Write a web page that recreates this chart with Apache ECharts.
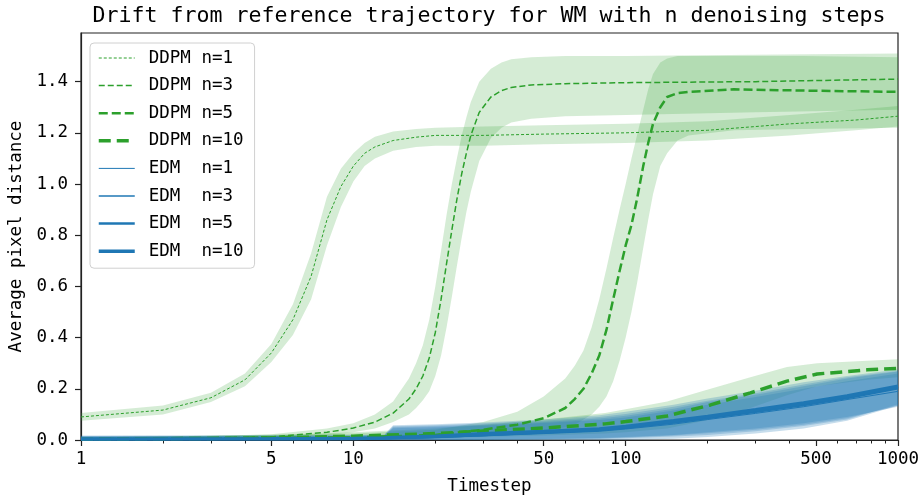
<!DOCTYPE html>
<html>
<head>
<meta charset="utf-8">
<script src="https://cdn.jsdelivr.net/npm/echarts@6/dist/echarts.min.js"></script>
<style>
  html, body { margin: 0; padding: 0; background: #fff; }
  #chart { width: 922px; height: 495px; }
</style>
</head>
<body>
<div id="chart"></div>
<script>
// axis ticks
const xLabelTicks = [1, 5, 10, 50, 100, 500, 1000]
const xMinorTicks = [2, 3, 4, 6, 7, 8, 9, 20, 30, 40, 60, 70, 80, 90, 200, 300, 400, 600, 700, 800, 900]
const yTicks = [0, 0.2, 0.4, 0.6, 0.8, 1.0, 1.2, 1.4]

// DDPM n=1
const ddpm1T = [1, 2, 3, 4, 5, 6, 7, 8, 9, 10, 11, 12, 14, 17, 20, 30, 50, 100, 200, 400, 700, 1000]
const ddpm1Mean = [0.09, 0.117, 0.165, 0.235, 0.34, 0.47, 0.64, 0.86, 0.99, 1.07, 1.12, 1.145, 1.17, 1.183, 1.19, 1.19, 1.195, 1.2, 1.21, 1.235, 1.25, 1.265]
const ddpm1Lo = [0.075, 0.1, 0.148, 0.21, 0.305, 0.41, 0.55, 0.76, 0.91, 1.01, 1.07, 1.1, 1.13, 1.145, 1.15, 1.15, 1.155, 1.16, 1.17, 1.19, 1.21, 1.225]
const ddpm1Hi = [0.105, 0.135, 0.185, 0.26, 0.375, 0.53, 0.73, 0.95, 1.06, 1.12, 1.16, 1.185, 1.205, 1.215, 1.22, 1.225, 1.23, 1.235, 1.245, 1.27, 1.29, 1.305]

// DDPM n=3
const ddpm3T = [1, 3, 5, 8, 10, 12, 14, 16, 17, 18, 19, 20, 21, 22, 23, 24, 25, 26, 27, 29, 32, 35, 38, 45, 60, 100, 300, 1000]
const ddpm3Mean = [0.005, 0.008, 0.012, 0.03, 0.047, 0.07, 0.105, 0.16, 0.2, 0.25, 0.32, 0.42, 0.55, 0.69, 0.82, 0.94, 1.04, 1.12, 1.19, 1.28, 1.34, 1.365, 1.377, 1.387, 1.392, 1.396, 1.4, 1.41]
const ddpm3Lo = [0, 0.001, 0.004, 0.018, 0.03, 0.045, 0.07, 0.1, 0.125, 0.155, 0.19, 0.25, 0.33, 0.44, 0.56, 0.68, 0.79, 0.89, 0.97, 1.09, 1.18, 1.22, 1.24, 1.255, 1.265, 1.27, 1.28, 1.29]
const ddpm3Hi = [0.012, 0.016, 0.022, 0.045, 0.065, 0.1, 0.15, 0.24, 0.3, 0.37, 0.47, 0.6, 0.74, 0.88, 1.0, 1.1, 1.19, 1.26, 1.32, 1.4, 1.45, 1.475, 1.487, 1.495, 1.5, 1.5, 1.505, 1.51]

// DDPM n=5
const ddpm5T = [1, 10, 20, 30, 40, 50, 60, 65, 70, 75, 80, 85, 90, 95, 100, 105, 110, 116, 121, 126, 134, 142, 155, 170, 250, 450, 1000]
const ddpm5Mean = [0.003, 0.01, 0.02, 0.04, 0.06, 0.085, 0.125, 0.16, 0.2, 0.26, 0.33, 0.43, 0.55, 0.66, 0.76, 0.84, 0.94, 1.07, 1.16, 1.235, 1.3, 1.34, 1.355, 1.36, 1.37, 1.365, 1.36]
const ddpm5Lo = [0, 0, 0.005, 0.015, 0.025, 0.035, 0.05, 0.06, 0.08, 0.1, 0.13, 0.17, 0.23, 0.31, 0.4, 0.5, 0.61, 0.75, 0.86, 0.96, 1.07, 1.12, 1.17, 1.19, 1.21, 1.215, 1.22]
const ddpm5Hi = [0.01, 0.025, 0.04, 0.07, 0.11, 0.17, 0.24, 0.29, 0.35, 0.44, 0.55, 0.67, 0.79, 0.9, 1.0, 1.1, 1.19, 1.29, 1.37, 1.43, 1.475, 1.49, 1.5, 1.5, 1.5, 1.5, 1.495]

// DDPM n=10
const ddpm10T = [1, 5, 10, 20, 30, 50, 84, 100, 142, 205, 287, 391, 505, 771, 1000]
const ddpm10Mean = [0.003, 0.008, 0.015, 0.025, 0.035, 0.047, 0.063, 0.072, 0.094, 0.137, 0.184, 0.23, 0.258, 0.274, 0.28]
const ddpm10Lo = [0, 0.001, 0.004, 0.008, 0.012, 0.018, 0.025, 0.03, 0.045, 0.08, 0.125, 0.175, 0.21, 0.235, 0.245]
const ddpm10Hi = [0.01, 0.02, 0.03, 0.045, 0.06, 0.08, 0.105, 0.12, 0.15, 0.2, 0.245, 0.285, 0.3, 0.31, 0.315]

// EDM (shared timesteps)
const edmT = [1, 5, 10, 13, 14, 20, 30, 50, 80, 100, 150, 200, 300, 450, 650, 1000]
const edm1Mean = [0.002, 0.003, 0.004, 0.005, 0.006, 0.01, 0.016, 0.025, 0.034, 0.043, 0.062, 0.08, 0.104, 0.13, 0.158, 0.19]
const edm1Lo = [0, 0, 0, 0, 0, 0, 0.001, 0.004, 0.008, 0.012, 0.02, 0.03, 0.045, 0.065, 0.09, 0.13]
const edm1Hi = [0.014, 0.015, 0.016, 0.017, 0.046, 0.05, 0.056, 0.066, 0.078, 0.088, 0.115, 0.138, 0.168, 0.2, 0.23, 0.26]
const edm3Mean = [0.003, 0.004, 0.005, 0.006, 0.007, 0.011, 0.018, 0.027, 0.037, 0.046, 0.066, 0.084, 0.108, 0.135, 0.162, 0.2]
const edm3Lo = [0, 0, 0, 0, 0, 0, 0.001, 0.003, 0.006, 0.01, 0.018, 0.026, 0.04, 0.06, 0.085, 0.135]
const edm3Hi = [0.015, 0.016, 0.017, 0.018, 0.05, 0.054, 0.06, 0.07, 0.084, 0.095, 0.122, 0.148, 0.177, 0.21, 0.24, 0.268]
const edm5Mean = [0.003, 0.004, 0.005, 0.007, 0.008, 0.012, 0.02, 0.03, 0.04, 0.05, 0.07, 0.088, 0.113, 0.14, 0.167, 0.205]
const edm5Lo = [0, 0, 0, 0, 0, 0, 0, 0.002, 0.004, 0.007, 0.014, 0.02, 0.034, 0.055, 0.08, 0.14]
const edm5Hi = [0.016, 0.017, 0.018, 0.019, 0.054, 0.058, 0.064, 0.075, 0.09, 0.102, 0.13, 0.153, 0.183, 0.217, 0.245, 0.27]
const edm10Mean = [0.004, 0.005, 0.006, 0.008, 0.01, 0.015, 0.024, 0.033, 0.043, 0.053, 0.075, 0.092, 0.118, 0.145, 0.172, 0.21]
const edm10Lo = [0, 0, 0, 0, 0, 0, 0, 0, 0, 0, 0.005, 0.012, 0.025, 0.045, 0.075, 0.135]
const edm10Hi = [0.018, 0.019, 0.02, 0.021, 0.058, 0.062, 0.068, 0.08, 0.097, 0.11, 0.138, 0.162, 0.192, 0.226, 0.25, 0.275]

const FONT = "'DejaVu Sans Mono', monospace"
const GREEN = '#2ca02c'
const BLUE = '#1f77b4'
const GREEN_BAND = 'rgba(44,160,44,0.2)'
const BLUE_BAND = 'rgba(31,119,180,0.25)'

const curves = [
  { name: 'DDPM n=1', t: ddpm1T, mean: ddpm1Mean, lo: ddpm1Lo, hi: ddpm1Hi, color: GREEN, band: GREEN_BAND, width: 1, dash: [3, 2] },
  { name: 'DDPM n=3', t: ddpm3T, mean: ddpm3Mean, lo: ddpm3Lo, hi: ddpm3Hi, color: GREEN, band: GREEN_BAND, width: 1.5, dash: [6, 3] },
  { name: 'DDPM n=5', t: ddpm5T, mean: ddpm5Mean, lo: ddpm5Lo, hi: ddpm5Hi, color: GREEN, band: GREEN_BAND, width: 2.5, dash: [9, 4] },
  { name: 'DDPM n=10', t: ddpm10T, mean: ddpm10Mean, lo: ddpm10Lo, hi: ddpm10Hi, color: GREEN, band: GREEN_BAND, width: 3.5, dash: [12, 6] },
  { name: 'EDM  n=1', t: edmT, mean: edm1Mean, lo: edm1Lo, hi: edm1Hi, color: BLUE, band: BLUE_BAND, width: 1, dash: 'solid' },
  { name: 'EDM  n=3', t: edmT, mean: edm3Mean, lo: edm3Lo, hi: edm3Hi, color: BLUE, band: BLUE_BAND, width: 1.5, dash: 'solid' },
  { name: 'EDM  n=5', t: edmT, mean: edm5Mean, lo: edm5Lo, hi: edm5Hi, color: BLUE, band: BLUE_BAND, width: 2.5, dash: 'solid' },
  { name: 'EDM  n=10', t: edmT, mean: edm10Mean, lo: edm10Lo, hi: edm10Hi, color: BLUE, band: BLUE_BAND, width: 3.5, dash: 'solid' }
]

// shaded band: one polygon through the axis scales
function bandSeries(c) {
  return {
    type: 'custom',
    name: c.name + ' band',
    silent: true,
    clip: true,
    z: 1,
    data: c.t.map((v, i) => [v, c.lo[i], c.hi[i]]),
    encode: { x: 0, y: [1, 2] },
    renderItem(params, api) {
      if (params.dataIndex !== 0) return null
      const upper = c.t.map((v, i) => api.coord([v, c.hi[i]]))
      const lower = c.t.map((v, i) => api.coord([v, c.lo[i]])).reverse()
      return {
        type: 'polygon',
        shape: { points: upper.concat(lower) },
        style: { fill: c.band, stroke: null }
      }
    }
  }
}

function lineSeries(c) {
  return {
    type: 'line',
    name: c.name,
    data: c.t.map((v, i) => [v, c.mean[i]]),
    symbol: 'none',
    showSymbol: false,
    z: 3,
    itemStyle: { color: c.color },
    lineStyle: { color: c.color, width: c.width, type: c.dash }
  }
}

const chart = echarts.init(document.getElementById('chart'))
chart.setOption({
  animation: false,
  backgroundColor: '#fff',
  title: {
    text: 'Drift from reference trajectory for WM with n denoising steps',
    left: 489,
    top: 5,
    padding: 0,
    textAlign: 'center',
    textStyle: { fontFamily: FONT, fontSize: 21.6, fontWeight: 'normal', color: '#000' }
  },
  grid: {
    left: 81, right: 24, top: 33, bottom: 55,
    outerBoundsMode: 'none',
    show: true, borderColor: '#222', borderWidth: 1.2, backgroundColor: 'transparent'
  },
  legend: {
    data: curves.map(c => c.name),
    orient: 'vertical',
    left: 90,
    top: 43,
    padding: [6, 11, 8, 7],
    itemWidth: 36,
    itemHeight: 14,
    itemGap: 9.6,
    selectedMode: false,
    backgroundColor: 'rgba(255,255,255,0.8)',
    borderColor: '#d0d0d0',
    borderWidth: 1,
    borderRadius: 4,
    itemStyle: { opacity: 0, borderWidth: 0 },
    lineStyle: { width: 'inherit' },
    textStyle: { fontFamily: FONT, fontSize: 17.5, color: '#000', lineHeight: 18, padding: [0, 0, 0, 9] }
  },
  xAxis: [{
    type: 'log',
    logBase: 10,
    min: 1,
    max: 1000,
    name: 'Timestep',
    nameLocation: 'middle',
    nameGap: 37,
    nameTextStyle: { fontFamily: FONT, fontSize: 17.5, color: '#000' },
    axisLine: { show: true, lineStyle: { color: '#222', width: 1.2 } },
    axisTick: { show: true, length: 6, lineStyle: { color: '#222', width: 1.2 }, customValues: xLabelTicks },
    axisLabel: {
      customValues: xLabelTicks,
      margin: 10,
      fontFamily: FONT, fontSize: 17.5, color: '#000',
      formatter: v => String(Math.round(v))
    },
    splitLine: { show: false }
  }, {
    type: 'log',
    logBase: 10,
    min: 1,
    max: 1000,
    position: 'bottom',
    axisLine: { show: false },
    axisTick: { show: true, length: 3.5, lineStyle: { color: '#222', width: 1 }, customValues: xMinorTicks },
    axisLabel: { show: false },
    splitLine: { show: false }
  }],
  yAxis: {
    type: 'value',
    min: 0,
    max: 1.59,
    name: 'Average pixel distance',
    nameLocation: 'middle',
    nameGap: 54,
    nameTextStyle: { fontFamily: FONT, fontSize: 17.5, color: '#000' },
    axisLine: { show: true, lineStyle: { color: '#222', width: 1.2 } },
    axisTick: { show: true, length: 6, lineStyle: { color: '#222', width: 1.2 }, customValues: yTicks },
    axisLabel: {
      customValues: yTicks,
      margin: 13,
      fontFamily: FONT, fontSize: 17.5, color: '#000',
      formatter: v => v.toFixed(1)
    },
    splitLine: { show: false }
  },
  series: curves.map(bandSeries).concat(curves.map(lineSeries))
})
</script>
</body>
</html>
